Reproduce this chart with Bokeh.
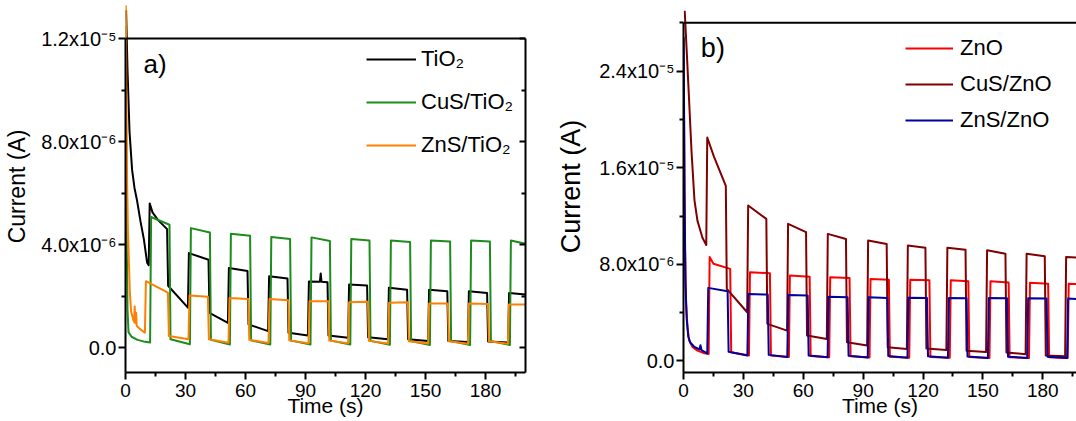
import numpy as np
from bokeh.plotting import figure
from bokeh.models import Range1d, FixedTicker, LinearAxis, Span, Label, Legend, LegendItem
from bokeh.layouts import row
from bokeh.embed import file_html
from bokeh.resources import INLINE

# ---------------- data: time in s, current in units of 1e-6 A ----------------
# Panel a) -- TiO2
a1_init_t = [0.3, 1.0, 2.0, 3.3, 4.5, 5.8, 7.5, 9.2, 10.8, 11.6]
a1_init_i = [13.1, 10.8, 8.4, 6.9, 6.2, 5.7, 4.9, 4.2, 3.3, 3.2]
a1_on_t = [11.6, 31.2, 51.2, 71.3, 91.2, 111.3, 131.2, 151.3, 171.2, 191.3]
a1_on_hi = [5.6, 3.67, 3.09, 2.77, 2.57, 2.45, 2.32, 2.25, 2.19, 2.12]
a1_off_t = [20.8, 41.5, 61.0, 81.0, 101.0, 120.8, 140.8, 160.9, 180.8, 200.0]
a1_off_hi = [4.6, 3.41, 2.97, 2.68, 2.54, 2.41, 2.25, 2.19, 2.12, 2.06]
a1_off_lo = [2.4, 1.35, 0.9, 0.58, 0.47, 0.4, 0.32, 0.26, 0.24]
a1_on_lo = [1.55, 0.96, 0.64, 0.47, 0.38, 0.32, 0.26, 0.22, 0.2]
a1_extra_t = [13.5, 16.3, 97.2, 97.6, 98.0]
a1_extra_i = [5.25, 4.95, 2.56, 2.88, 2.56]

# Panel a) -- CuS/TiO2
a2_init_t = [0.1, 0.5, 1.0, 1.5, 3.0, 6.0, 9.0, 12.3]
a2_init_i = [12.5, 5.0, 1.5, 0.6, 0.42, 0.3, 0.24, 0.2]
a2_on_t = [12.3, 32.2, 52.2, 72.4, 92.5, 112.4, 132.2, 152.2, 172.3, 192.2]
a2_on_hi = [5.07, 4.64, 4.42, 4.29, 4.28, 4.22, 4.16, 4.16, 4.16, 4.16]
a2_off_t = [22.0, 42.2, 62.3, 82.3, 102.2, 122.0, 142.3, 162.3, 182.2, 200.0]
a2_off_hi = [4.77, 4.47, 4.34, 4.22, 4.14, 4.16, 4.10, 4.12, 4.12, 4.03]
a2_off_lo = [0.32, 0.3, 0.28, 0.27, 0.27, 0.26, 0.25, 0.25, 0.25]
a2_on_lo = [0.13, 0.12, 0.12, 0.12, 0.12, 0.11, 0.1, 0.1, 0.1]

# Panel a) -- ZnS/TiO2
a3_init_t = [0.15, 0.5, 0.8, 1.2, 1.7, 2.2, 2.8, 4.0, 5.8, 7.5, 9.7]
a3_init_i = [13.3, 9.0, 6.5, 4.6, 3.3, 2.1, 1.4, 1.05, 0.83, 0.7, 0.58]
a3_on_t = [9.7, 31.5, 51.5, 71.5, 91.5, 111.3, 131.3, 151.3, 171.2, 191.2]
a3_on_hi = [2.58, 2.02, 1.93, 1.89, 1.8, 1.76, 1.74, 1.71, 1.71, 1.67]
a3_off_t = [21.2, 41.2, 61.4, 81.4, 101.4, 121.2, 141.2, 161.2, 181.2, 200.0]
a3_off_hi = [2.13, 1.97, 1.89, 1.84, 1.8, 1.78, 1.76, 1.71, 1.69, 1.67]
a3_off_lo = [0.45, 0.32, 0.3, 0.28, 0.27, 0.26, 0.25, 0.25, 0.25]
a3_on_lo = [0.32, 0.19, 0.18, 0.17, 0.17, 0.16, 0.16, 0.15, 0.15]
a3_extra_t = [4.3, 4.6, 4.9, 5.3, 5.6]
a3_extra_i = [1.0, 1.6, 0.95, 1.35, 0.85]

# Panel b) -- ZnO
b1_init_t = [0.2, 0.7, 1.2, 2.0, 2.8, 4.5, 7.0, 10.5, 12.6]
b1_init_i = [22.0, 10.0, 5.0, 2.8, 1.7, 1.15, 0.85, 0.63, 0.58]
b1_on_t = [12.6, 32.8, 52.8, 73.0, 93.2, 113.1, 133.4, 153.3, 173.1, 192.5]
b1_on_hi = [8.6, 7.34, 7.07, 6.93, 6.79, 6.73, 6.68, 6.6, 6.48, 6.4]
b1_off_t = [23.4, 43.3, 63.2, 83.2, 102.9, 123.2, 142.7, 162.9, 182.7, 200.0]
b1_off_hi = [7.62, 7.26, 6.98, 6.87, 6.73, 6.68, 6.6, 6.5, 6.4, 6.35]
b1_off_lo = [0.71, 0.45, 0.4, 0.38, 0.35, 0.33, 0.32, 0.3, 0.3]
b1_on_lo = [0.44, 0.33, 0.3, 0.28, 0.27, 0.26, 0.25, 0.25, 0.24]
b1_extra_t = [15.0]
b1_extra_i = [8.05]

# Panel b) -- CuS/ZnO
b2_init_t = [0.6, 1.6, 2.8, 4.0, 5.5, 7.0, 9.5, 11.4]
b2_init_i = [29.0, 25.7, 21.6, 17.4, 13.3, 11.6, 10.2, 9.6]
b2_on_t = [11.4, 31.9, 51.9, 71.8, 92.0, 111.9, 131.7, 151.6, 171.4, 191.2]
b2_on_hi = [18.5, 12.87, 11.35, 10.52, 9.97, 9.55, 9.38, 9.16, 8.88, 8.6]
b2_off_t = [21.2, 41.5, 61.4, 81.4, 101.8, 121.2, 141.3, 161.3, 181.0, 200.0]
b2_off_hi = [14.5, 11.76, 10.66, 10.1, 9.69, 9.38, 9.21, 8.88, 8.66, 8.55]
b2_off_lo = [5.96, 3.07, 2.1, 1.54, 1.13, 1.02, 0.85, 0.7, 0.45]
b2_on_lo = [4.03, 2.51, 1.82, 1.27, 0.99, 0.9, 0.74, 0.55, 0.39]
b2_extra_t = [15.3]
b2_extra_i = [16.9]

# Panel b) -- ZnS/ZnO
b3_init_t = [0.1, 0.5, 1.0, 1.6, 2.4, 3.5, 5.5, 8.0, 8.5, 9.0, 11.9]
b3_init_i = [26.8, 14.0, 6.5, 3.5, 2.0, 1.5, 1.15, 0.95, 1.3, 0.9, 0.62]
b3_on_t = [11.9, 32.0, 52.0, 72.2, 92.3, 112.2, 132.5, 152.5, 172.2, 192.2]
b3_on_hi = [6.05, 5.55, 5.45, 5.32, 5.27, 5.24, 5.21, 5.21, 5.19, 5.17]
b3_off_t = [22.1, 42.2, 62.2, 82.2, 102.1, 122.0, 141.8, 162.1, 181.9, 200.0]
b3_off_hi = [5.77, 5.49, 5.41, 5.27, 5.22, 5.21, 5.19, 5.18, 5.16, 5.1]
b3_off_lo = [0.75, 0.5, 0.45, 0.42, 0.4, 0.38, 0.36, 0.35, 0.35]
b3_on_lo = [0.45, 0.33, 0.3, 0.28, 0.27, 0.26, 0.25, 0.25, 0.25]

a_labels = ["TiO₂", "CuS/TiO₂", "ZnS/TiO₂"]
b_labels = ["ZnO", "CuS/ZnO", "ZnS/ZnO"]
a_colors = ["#000000", "#1c8c1c", "#ff8000"]
b_colors = ["#ff0000", "#800000", "#00009c"]

x_major = [0, 30, 60, 90, 120, 150, 180]
x_minor = [15, 45, 75, 105, 135, 165, 195]
a_y_major = [0, 4, 8, 12]
a_y_minor = [2, 6, 10]
a_y_labels = ["0.0", "4.0x10⁻⁶", "8.0x10⁻⁶", "1.2x10⁻⁵"]
b_y_major = [0, 8, 16, 24]
b_y_minor = [4, 12, 20, 28]
b_y_labels = ["0.0", "8.0x10⁻⁶", "1.6x10⁻⁵", "2.4x10⁻⁵"]

FONT = "Liberation Sans"
EDGE = 0.5


def trace(init_t, init_i, on_t, on_hi, off_t, off_hi, off_lo, on_lo, extra_t=(), extra_i=()):
    t = list(init_t)
    y = list(init_i)
    for k in range(len(on_t)):
        t += [on_t[k] + EDGE, off_t[k]]
        y += [on_hi[k], off_hi[k]]
        if k < len(off_lo):
            t += [off_t[k] + EDGE, on_t[k + 1]]
            y += [off_lo[k], on_lo[k]]
    t += list(extra_t)
    y += list(extra_i)
    order = np.argsort(np.array(t), kind="stable")
    return np.array(t)[order], np.array(y)[order]


def style_axes(p, y_major, y_minor, y_labels, ybounds, ylabel_size, ylabel_standoff, right_axis):
    p.xgrid.visible = False
    p.ygrid.visible = False
    p.outline_line_color = None
    xa = p.xaxis[0]
    xa.ticker = FixedTicker(ticks=x_major, minor_ticks=x_minor)
    xa.axis_line_width = 2
    xa.axis_line_color = "black"
    xa.major_tick_line_width = 2
    xa.minor_tick_line_width = 2
    xa.major_tick_line_color = "black"
    xa.minor_tick_line_color = "black"
    xa.major_tick_out = 7
    xa.major_tick_in = 0
    xa.minor_tick_out = 4
    xa.minor_tick_in = 0
    xa.major_label_text_font = FONT
    xa.major_label_text_font_size = "19px"
    xa.major_label_text_color = "black"
    xa.major_label_standoff = 4
    xa.axis_label = "Time (s)"
    xa.axis_label_text_font = FONT
    xa.axis_label_text_font_size = "21px"
    xa.axis_label_text_color = "black"
    xa.axis_label_text_font_style = "normal"
    xa.axis_label_standoff = -6
    ya = p.yaxis[0]
    ya.ticker = FixedTicker(ticks=y_major, minor_ticks=y_minor)
    ya.major_label_overrides = {v: s for v, s in zip(y_major, y_labels)}
    ya.bounds = ybounds
    ya.axis_line_width = 2
    ya.axis_line_color = "black"
    ya.major_tick_line_width = 2
    ya.minor_tick_line_width = 2
    ya.major_tick_line_color = "black"
    ya.minor_tick_line_color = "black"
    ya.major_tick_out = 7
    ya.major_tick_in = 0
    ya.minor_tick_out = 4
    ya.minor_tick_in = 0
    ya.major_label_text_font = FONT
    ya.major_label_text_font_size = "20px"
    ya.major_label_text_color = "black"
    ya.major_label_standoff = 2
    ya.axis_label = "Current (A)"
    ya.axis_label_text_font = FONT
    ya.axis_label_text_font_size = ylabel_size
    ya.axis_label_text_color = "black"
    ya.axis_label_text_font_style = "normal"
    ya.axis_label_standoff = ylabel_standoff
    if right_axis:
        ra = LinearAxis(ticker=FixedTicker(ticks=y_major, minor_ticks=y_minor))
        ra.bounds = ybounds
        ra.axis_line_width = 2
        ra.axis_line_color = "black"
        ra.major_tick_line_width = 2
        ra.minor_tick_line_width = 2
        ra.major_tick_in = 6
        ra.major_tick_out = 0
        ra.minor_tick_in = 4
        ra.minor_tick_out = 0
        ra.major_label_overrides = {v: "" for v in y_major}
        ra.major_label_standoff = 0
        p.add_layout(ra, "right")


# ---------------- panel a ----------------
pa = figure(width=545, height=421, output_backend="svg", toolbar_location=None,
            x_range=Range1d(0, 200), y_range=Range1d(-0.968, 13.48),
            min_border_left=125, min_border_right=20, min_border_top=0, min_border_bottom=47)
style_axes(pa, a_y_major, a_y_minor, a_y_labels, (-0.968, 12), "23px", 8, True)
pa.add_layout(Span(location=12, dimension="width", line_color="black", line_width=2))

a_series = [
    trace(a1_init_t, a1_init_i, a1_on_t, a1_on_hi, a1_off_t, a1_off_hi, a1_off_lo, a1_on_lo, a1_extra_t, a1_extra_i),
    trace(a2_init_t, a2_init_i, a2_on_t, a2_on_hi, a2_off_t, a2_off_hi, a2_off_lo, a2_on_lo),
    trace(a3_init_t, a3_init_i, a3_on_t, a3_on_hi, a3_off_t, a3_off_hi, a3_off_lo, a3_on_lo, a3_extra_t, a3_extra_i),
]
a_items = []
for (t, y), lab, col in zip(a_series, a_labels, a_colors):
    r = pa.line(t, y, line_color=col, line_width=2, line_join="round")
    a_items.append(LegendItem(label=lab, renderers=[r]))
leg_a = Legend(items=a_items, location=(241, 212), glyph_width=50, glyph_height=30, label_height=30,
               label_standoff=5, spacing=13, padding=0, margin=0, border_line_color=None,
               background_fill_alpha=0, label_text_font=FONT, label_text_font_size="22px",
               label_text_color="black")
pa.add_layout(leg_a)
pa.add_layout(Label(x=9, y=11, text="a)", text_font=FONT, text_font_size="26px", text_baseline="middle",
                    text_color="black"))

# ---------------- panel b ----------------
pb = figure(width=531, height=421, output_backend="svg", toolbar_location=None,
            x_range=Range1d(0, 196.9), y_range=Range1d(-0.96, 29.85),
            min_border_left=138, min_border_right=0, min_border_top=0, min_border_bottom=49)
style_axes(pb, b_y_major, b_y_minor, b_y_labels, (-0.96, 28), "27px", 10, False)
pb.add_layout(Span(location=28, dimension="width", line_color="black", line_width=2))

b_series = [
    trace(b1_init_t, b1_init_i, b1_on_t, b1_on_hi, b1_off_t, b1_off_hi, b1_off_lo, b1_on_lo, b1_extra_t, b1_extra_i),
    trace(b2_init_t, b2_init_i, b2_on_t, b2_on_hi, b2_off_t, b2_off_hi, b2_off_lo, b2_on_lo, b2_extra_t, b2_extra_i),
    trace(b3_init_t, b3_init_i, b3_on_t, b3_on_hi, b3_off_t, b3_off_hi, b3_off_lo, b3_on_lo),
]
b_items = []
for (t, y), lab, col in zip(b_series, b_labels, b_colors):
    r = pb.line(t, y, line_color=col, line_width=2, line_join="round")
    b_items.append(LegendItem(label=lab, renderers=[r]))
leg_b = Legend(items=b_items, location=(222, 237), glyph_width=48, glyph_height=30, label_height=30,
               label_standoff=7, spacing=6, padding=0, margin=0, border_line_color=None,
               background_fill_alpha=0, label_text_font=FONT, label_text_font_size="22px",
               label_text_color="black")
pb.add_layout(leg_b)
pb.add_layout(Label(x=8.7, y=25.9, text="b)", text_font=FONT, text_font_size="27px", text_baseline="middle",
                    text_color="black"))

layout = row(pa, pb)
open("out.html", "w").write(file_html(layout, INLINE))
